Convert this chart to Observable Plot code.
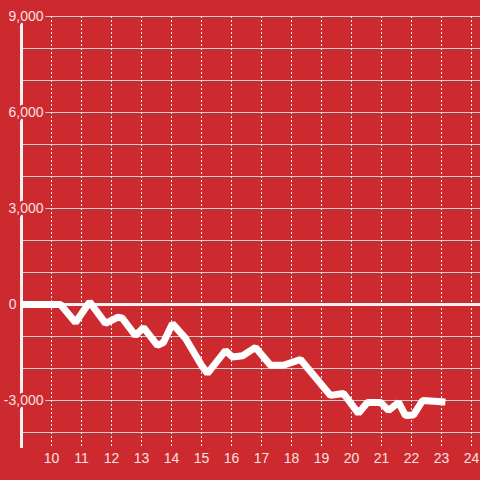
<!DOCTYPE html>
<html>
<head>
<meta charset="utf-8">
<script src="https://cdn.jsdelivr.net/npm/d3@7"></script>
<script src="https://cdn.jsdelivr.net/npm/@observablehq/plot@0.6"></script>
<style>
  html, body { margin: 0; padding: 0; background: #cd2a30; }
  #chart svg { display: block; }
</style>
</head>
<body>
<div id="chart"></div>
<script>
const hours = [9.0, 10.3, 10.8, 11.27, 11.8, 12.2, 12.35, 12.8, 13.07, 13.53, 13.73, 14.03, 14.47, 15.0, 15.2, 15.8, 16.03, 16.37, 16.8, 17.3, 17.73, 18.3, 19.3, 19.73, 20.23, 20.53, 20.97, 21.23, 21.57, 21.8, 22.07, 22.37, 23.13];
const values = [0, 0, -560, 80, -590, -400, -420, -970, -720, -1280, -1190, -600, -1060, -1900, -2150, -1440, -1640, -1600, -1340, -1900, -1900, -1720, -2840, -2780, -3400, -3060, -3060, -3310, -3060, -3470, -3450, -3000, -3050];
const yGridTicks = d3.range(-4000, 9001, 1000);
const yLabelTicks = [9000, 6000, 3000, -3000];
const yZeroLabel = [0];
const xTicks = d3.range(10, 25, 1);

const bg = "#cd2a30";
const textColor = "#f6e0e0";
const data = hours.map((h, i) => ({h, v: values[i]}));
const fmt = d => d.toLocaleString("en-US");

const chart = Plot.plot({
  width: 480,
  height: 480,
  marginLeft: 21,
  marginRight: 0,
  marginTop: 16,
  marginBottom: 32,
  style: {background: bg, fontFamily: "'Liberation Sans', Arial, sans-serif"},
  x: {domain: [9, 24.3], axis: null},
  y: {domain: [-4500, 9000], axis: null},
  marks: [
    Plot.gridY(yGridTicks, {stroke: "#cfcfcf", strokeOpacity: 1, strokeWidth: 1}),
    Plot.gridX(xTicks, {stroke: "#eeeeee", strokeOpacity: 1, strokeWidth: 1, strokeDasharray: "2,2"}),
    Plot.ruleX([9], {stroke: "#f2f2f2", strokeWidth: 3}),
    Plot.ruleY([0], {stroke: "#f2f2f2", strokeWidth: 3}),
    Plot.text(yLabelTicks, {x: 9, y: d => d, text: fmt, textAnchor: "end", dx: 22, fill: textColor, stroke: bg, strokeWidth: 5, fontSize: 14}),
    Plot.text(yZeroLabel, {x: 9, y: d => d, text: fmt, textAnchor: "end", dx: -5, fill: textColor, fontSize: 14}),
    Plot.text(xTicks, {x: d => d, frameAnchor: "bottom", dy: 14, text: d => String(d), fill: textColor, fontSize: 14}),
    Plot.line(data, {x: "h", y: "v", stroke: "#ffffff", strokeWidth: 7, strokeLinejoin: "miter", strokeLinecap: "butt", curve: "linear"})
  ]
});
document.getElementById("chart").append(chart);
</script>
</body>
</html>
